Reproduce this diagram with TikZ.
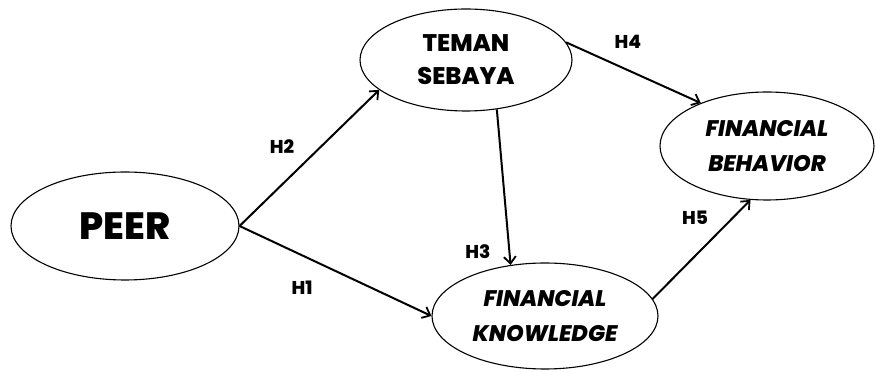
\documentclass[tikz,border=0pt]{standalone}
\usepackage{fontspec}
\setmainfont{Poppins}[BoldFont={Poppins ExtraBold}, BoldItalicFont={Poppins ExtraBold Italic}]
\usepackage{tikz}
\usetikzlibrary{shapes.geometric, arrows.meta, positioning}
\tikzstyle{construct} = [draw, ellipse, inner sep=0pt, line width=1.1pt, align=center]
\tikzstyle{hyp} = [font=\bfseries\fontsize{18.5}{22}\selectfont]
\newcommand{\peerfont}{\bfseries\fontsize{38}{44}\selectfont}
\newcommand{\temanfont}{\bfseries\fontsize{24}{33}\selectfont}
\newcommand{\finfont}{\bfseries\itshape\fontsize{22.5}{35}\selectfont}

\begin{document}
\begin{tikzpicture}[x=1pt, y=1pt, >={Straight Barb[length=7pt, width=12pt, line width=1.8pt]}]
  \useasboundingbox (0,0) rectangle (876,372);
  \node[construct, minimum width=228pt, minimum height=108pt, font=\peerfont] (peer) at (125,146) {PEER};
  \node[construct, minimum width=212pt, minimum height=102pt, font=\temanfont] (teman) at (466,312) {TEMAN\\SEBAYA};
  \node[construct, minimum width=226pt, minimum height=106pt, font=\finfont] (know) at (545,56) {FINANCIAL\\KNOWLEDGE};
  \node[construct, minimum width=214pt, minimum height=108pt, font=\finfont] (behav) at (767,226) {FINANCIAL\\BEHAVIOR};
  \begin{scope}[line width=2pt]
    \draw[->] (peer.east) -- (teman.199);
    \draw[->] (peer.east) -- (know.west);
    \draw[->] (teman.302) -- (know.124);
    \draw[->] (teman.10) -- (behav.147);
    \draw[->] (know.9) -- (behav.253);
  \end{scope}
  \node[hyp] (h1) at (302,84) {H1};
  \node[hyp] (h2) at (282,225) {H2};
  \node[hyp] (h3) at (478,120) {H3};
  \node[hyp] (h4) at (628,330) {H4};
  \node[hyp] (h5) at (695,154) {H5};
\end{tikzpicture}
\end{document}
